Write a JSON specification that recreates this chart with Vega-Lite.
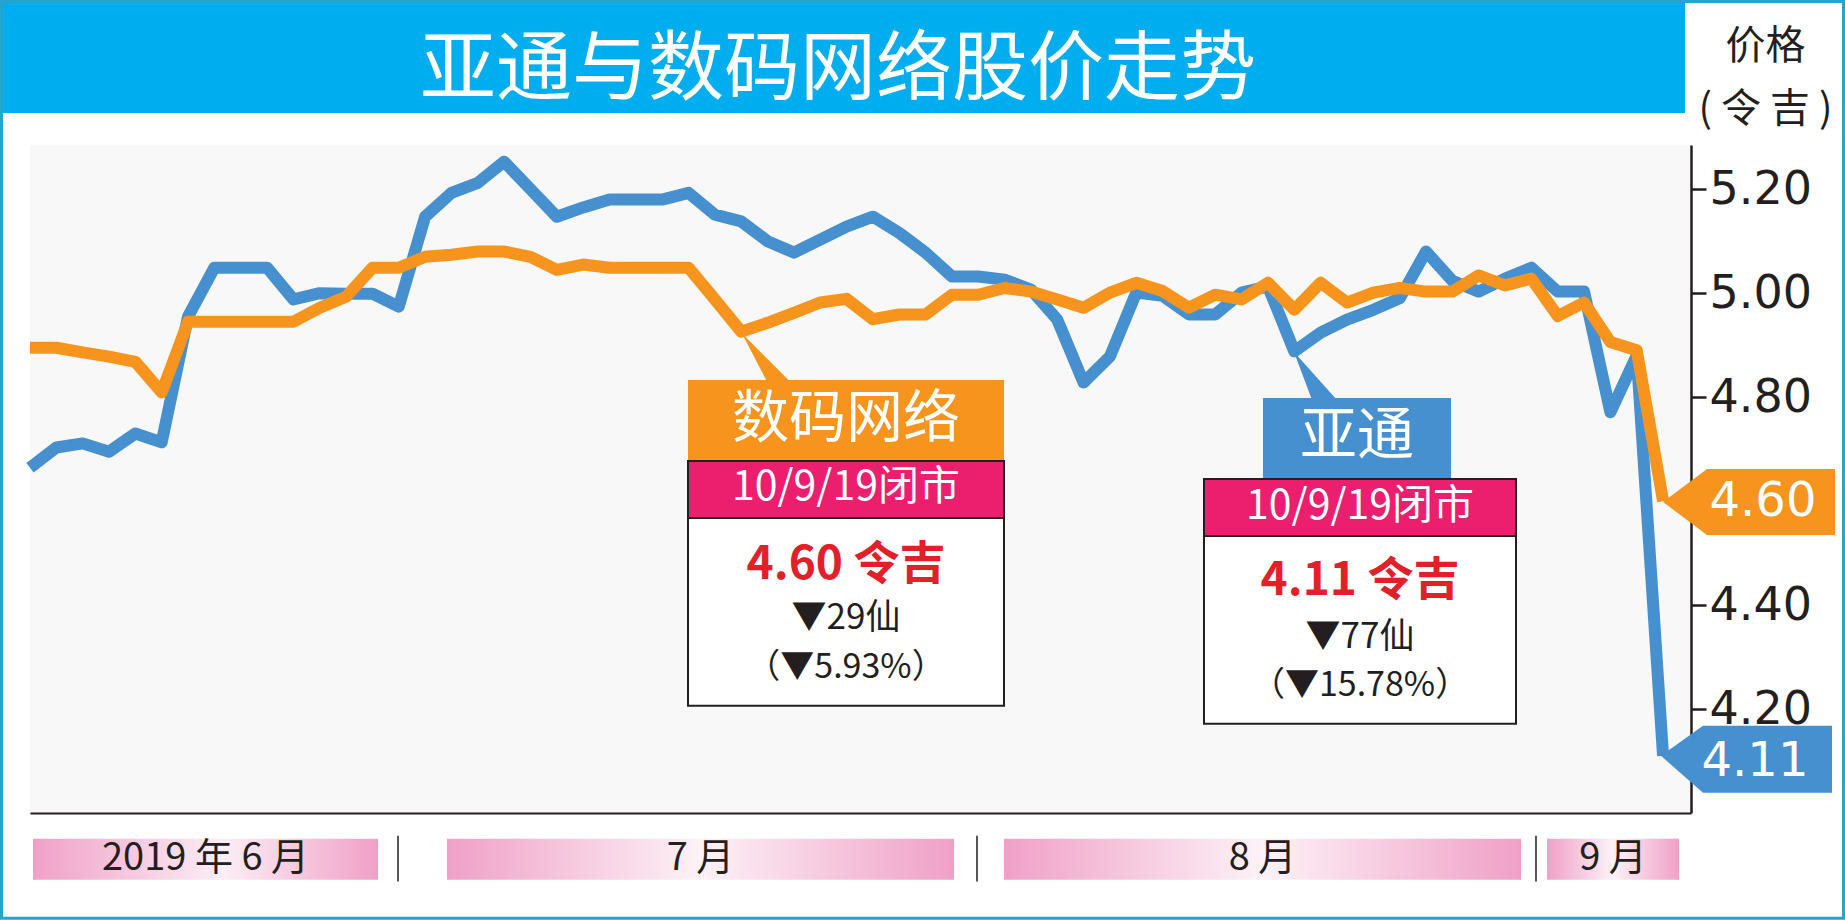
{
  "$schema": "https://vega.github.io/schema/vega-lite/v6.json",
  "width": 1661,
  "height": 668,
  "autosize": {"type": "none"},
  "padding": {"left": 30, "top": 145, "right": 154, "bottom": 107},
  "background": "white",
  "config": {"view": {"fill": "#F8F8F8", "stroke": null}},
  "datasets": {
    "prices": [
      {"d":0,"stock":"亚通","price":4.664},{"d":1,"stock":"亚通","price":4.703},{"d":2,"stock":"亚通","price":4.711},{"d":3,"stock":"亚通","price":4.695},{"d":4,"stock":"亚通","price":4.730},{"d":5,"stock":"亚通","price":4.713},{"d":6,"stock":"亚通","price":4.955},{"d":7,"stock":"亚通","price":5.049},{"d":8,"stock":"亚通","price":5.049},{"d":9,"stock":"亚通","price":5.049},
      {"d":10,"stock":"亚通","price":4.988},{"d":11,"stock":"亚通","price":5.000},{"d":12,"stock":"亚通","price":4.999},{"d":13,"stock":"亚通","price":4.999},{"d":14,"stock":"亚通","price":4.974},{"d":15,"stock":"亚通","price":5.147},{"d":16,"stock":"亚通","price":5.193},{"d":17,"stock":"亚通","price":5.212},{"d":18,"stock":"亚通","price":5.253},{"d":19,"stock":"亚通","price":5.200},
      {"d":20,"stock":"亚通","price":5.147},{"d":21,"stock":"亚通","price":5.165},{"d":22,"stock":"亚通","price":5.180},{"d":23,"stock":"亚通","price":5.180},{"d":24,"stock":"亚通","price":5.180},{"d":25,"stock":"亚通","price":5.193},{"d":26,"stock":"亚通","price":5.151},{"d":27,"stock":"亚通","price":5.138},{"d":28,"stock":"亚通","price":5.100},{"d":29,"stock":"亚通","price":5.078},
      {"d":30,"stock":"亚通","price":5.103},{"d":31,"stock":"亚通","price":5.128},{"d":32,"stock":"亚通","price":5.147},{"d":33,"stock":"亚通","price":5.116},{"d":34,"stock":"亚通","price":5.078},{"d":35,"stock":"亚通","price":5.032},{"d":36,"stock":"亚通","price":5.032},{"d":37,"stock":"亚通","price":5.026},{"d":38,"stock":"亚通","price":5.007},{"d":39,"stock":"亚通","price":4.949},
      {"d":40,"stock":"亚通","price":4.828},{"d":41,"stock":"亚通","price":4.878},{"d":42,"stock":"亚通","price":5.001},{"d":43,"stock":"亚通","price":4.995},{"d":44,"stock":"亚通","price":4.959},{"d":45,"stock":"亚通","price":4.959},{"d":46,"stock":"亚通","price":5.001},{"d":47,"stock":"亚通","price":5.013},{"d":48,"stock":"亚通","price":4.888},{"d":49,"stock":"亚通","price":4.924},
      {"d":50,"stock":"亚通","price":4.949},{"d":51,"stock":"亚通","price":4.968},{"d":52,"stock":"亚通","price":4.990},{"d":53,"stock":"亚通","price":5.080},{"d":54,"stock":"亚通","price":5.024},{"d":55,"stock":"亚通","price":5.003},{"d":56,"stock":"亚通","price":5.028},{"d":57,"stock":"亚通","price":5.049},{"d":58,"stock":"亚通","price":5.003},{"d":59,"stock":"亚通","price":5.003},
      {"d":60,"stock":"亚通","price":4.771},{"d":61,"stock":"亚通","price":4.880},{"d":62,"stock":"亚通","price":4.110},
      {"d":0,"stock":"数码网络","price":4.895},{"d":1,"stock":"数码网络","price":4.895},{"d":2,"stock":"数码网络","price":4.886},{"d":3,"stock":"数码网络","price":4.878},{"d":4,"stock":"数码网络","price":4.868},{"d":5,"stock":"数码网络","price":4.809},{"d":6,"stock":"数码网络","price":4.945},{"d":7,"stock":"数码网络","price":4.945},{"d":8,"stock":"数码网络","price":4.945},{"d":9,"stock":"数码网络","price":4.945},
      {"d":10,"stock":"数码网络","price":4.945},{"d":11,"stock":"数码网络","price":4.972},{"d":12,"stock":"数码网络","price":4.993},{"d":13,"stock":"数码网络","price":5.049},{"d":14,"stock":"数码网络","price":5.049},{"d":15,"stock":"数码网络","price":5.070},{"d":16,"stock":"数码网络","price":5.074},{"d":17,"stock":"数码网络","price":5.080},{"d":18,"stock":"数码网络","price":5.080},{"d":19,"stock":"数码网络","price":5.070},
      {"d":20,"stock":"数码网络","price":5.045},{"d":21,"stock":"数码网络","price":5.055},{"d":22,"stock":"数码网络","price":5.049},{"d":23,"stock":"数码网络","price":5.049},{"d":24,"stock":"数码网络","price":5.049},{"d":25,"stock":"数码网络","price":5.049},{"d":26,"stock":"数码网络","price":4.988},{"d":27,"stock":"数码网络","price":4.926},{"d":28,"stock":"数码网络","price":4.943},{"d":29,"stock":"数码网络","price":4.962},
      {"d":30,"stock":"数码网络","price":4.982},{"d":31,"stock":"数码网络","price":4.989},{"d":32,"stock":"数码网络","price":4.950},{"d":33,"stock":"数码网络","price":4.959},{"d":34,"stock":"数码网络","price":4.959},{"d":35,"stock":"数码网络","price":4.997},{"d":36,"stock":"数码网络","price":4.997},{"d":37,"stock":"数码网络","price":5.010},{"d":38,"stock":"数码网络","price":5.003},{"d":39,"stock":"数码网络","price":4.988},
      {"d":40,"stock":"数码网络","price":4.972},{"d":41,"stock":"数码网络","price":5.001},{"d":42,"stock":"数码网络","price":5.020},{"d":43,"stock":"数码网络","price":5.004},{"d":44,"stock":"数码网络","price":4.972},{"d":45,"stock":"数码网络","price":4.997},{"d":46,"stock":"数码网络","price":4.988},{"d":47,"stock":"数码网络","price":5.020},{"d":48,"stock":"数码网络","price":4.968},{"d":49,"stock":"数码网络","price":5.020},
      {"d":50,"stock":"数码网络","price":4.982},{"d":51,"stock":"数码网络","price":5.001},{"d":52,"stock":"数码网络","price":5.010},{"d":53,"stock":"数码网络","price":5.003},{"d":54,"stock":"数码网络","price":5.003},{"d":55,"stock":"数码网络","price":5.034},{"d":56,"stock":"数码网络","price":5.015},{"d":57,"stock":"数码网络","price":5.028},{"d":58,"stock":"数码网络","price":4.956},{"d":59,"stock":"数码网络","price":4.982},
      {"d":60,"stock":"数码网络","price":4.906},{"d":61,"stock":"数码网络","price":4.890},{"d":62,"stock":"数码网络","price":4.600}
    ]
  },
  "layer": [
    {
      "data": {"name": "prices"},
      "transform": [{"filter": "datum.stock === '亚通'"}],
      "mark": {"type": "line", "stroke": "#4690CF", "strokeWidth": 12, "strokeJoin": "round"},
      "encoding": {
        "x": {"field": "d", "type": "quantitative", "scale": {"domain": [0, 63.06], "nice": false, "zero": false},
              "axis": {"orient": "bottom", "labels": false, "ticks": false, "grid": false, "title": null, "domain": true, "domainColor": "#231F20", "domainWidth": 2}},
        "y": {"field": "price", "type": "quantitative", "scale": {"domain": [4.0, 5.285], "nice": false, "zero": false},
              "axis": {"orient": "right", "values": [4.2, 4.4, 4.8, 5.0, 5.2], "format": ".2f", "grid": false,
                       "labelFont": "DejaVu Sans", "labelFontSize": 46, "labelColor": "#231F20", "labelPadding": 3,
                       "labelOverlap": false, "labelBound": false, "labelFlush": false,
                       "tickSize": 15, "tickWidth": 2.5, "tickColor": "#231F20",
                       "domainColor": "#231F20", "domainWidth": 2.5,
                       "title": ["价格", "( 令 吉 )"], "titleAngle": 0, "titleX": 74, "titleY": -99, "titleAlign": "center", "titleBaseline": "middle",
                       "titleFont": "Noto Sans CJK SC", "titleFontSize": 40, "titleFontWeight": "normal", "titleColor": "#231F20", "titleLineHeight": 63}}
      }
    },
    {
      "data": {"name": "prices"},
      "transform": [{"filter": "datum.stock === '数码网络'"}],
      "mark": {"type": "line", "stroke": "#F7941D", "strokeWidth": 12, "strokeJoin": "round"},
      "encoding": {
        "x": {"field": "d", "type": "quantitative"},
        "y": {"field": "price", "type": "quantitative"}
      }
    },
    {
      "data": {"values": [{}]},
      "mark": {"type": "rect", "fill": "#00AEEF"},
      "encoding": {"x": {"datum": -1.2, "type": "quantitative"}, "x2": {"datum": 62.832},
                   "y": {"datum": 5.58, "type": "quantitative"}, "y2": {"datum": 5.3465}}
    },
    {
      "data": {"values": [{}]},
      "mark": {"type": "text", "text": "亚通与数码网络股价走势", "font": "Noto Sans CJK SC", "fontSize": 76, "color": "white", "align": "center", "baseline": "middle"},
      "encoding": {"x": {"datum": 30.676, "type": "quantitative"}, "y": {"datum": 5.428, "type": "quantitative"}}
    },
    {
      "data": {"values": [{}]},
      "mark": {"type": "rect", "fill": null, "fillOpacity": 0, "stroke": "#26A3CF", "strokeWidth": 3},
      "encoding": {"x": {"datum": -1.082, "type": "quantitative"}, "x2": {"datum": 68.85},
                   "y": {"datum": 5.5609, "type": "quantitative"}, "y2": {"datum": 3.7975}}
    },
    {
      "data": {"values": [{}]},
      "mark": {"type": "rect", "color": {"gradient": "linear", "x1": 0, "y1": 0, "x2": 1, "y2": 0, "stops": [{"offset": 0, "color": "#F0A0C7"}, {"offset": 0.55, "color": "#FCEEF5"}, {"offset": 1, "color": "#F0A0C7"}]}},
      "encoding": {"x": {"datum": 0.114, "type": "quantitative"}, "x2": {"datum": 13.212},
                   "y": {"datum": 3.9503, "type": "quantitative"}, "y2": {"datum": 3.8715}}
    },
    {
      "data": {"values": [{}]},
      "mark": {"type": "rect", "color": {"gradient": "linear", "x1": 0, "y1": 0, "x2": 1, "y2": 0, "stops": [{"offset": 0, "color": "#F0A0C7"}, {"offset": 0.5, "color": "#FDF2F7"}, {"offset": 1, "color": "#F0A0C7"}]}},
      "encoding": {"x": {"datum": 15.831, "type": "quantitative"}, "x2": {"datum": 35.08},
                   "y": {"datum": 3.9503, "type": "quantitative"}, "y2": {"datum": 3.8715}}
    },
    {
      "data": {"values": [{}]},
      "mark": {"type": "rect", "color": {"gradient": "linear", "x1": 0, "y1": 0, "x2": 1, "y2": 0, "stops": [{"offset": 0, "color": "#F0A0C7"}, {"offset": 0.5, "color": "#FDF2F7"}, {"offset": 1, "color": "#F0A0C7"}]}},
      "encoding": {"x": {"datum": 36.978, "type": "quantitative"}, "x2": {"datum": 56.606},
                   "y": {"datum": 3.9503, "type": "quantitative"}, "y2": {"datum": 3.8715}}
    },
    {
      "data": {"values": [{}]},
      "mark": {"type": "rect", "color": {"gradient": "linear", "x1": 0, "y1": 0, "x2": 1, "y2": 0, "stops": [{"offset": 0, "color": "#F0A0C7"}, {"offset": 0.5, "color": "#FDF2F7"}, {"offset": 1, "color": "#F0A0C7"}]}},
      "encoding": {"x": {"datum": 57.593, "type": "quantitative"}, "x2": {"datum": 62.605},
                   "y": {"datum": 3.9503, "type": "quantitative"}, "y2": {"datum": 3.8715}}
    },
    {
      "data": {"values": [{}]},
      "mark": {"type": "rule", "color": "#231F20", "strokeWidth": 1.5},
      "encoding": {"x": {"datum": 13.971, "type": "quantitative"},
                   "y": {"datum": 3.956, "type": "quantitative"}, "y2": {"datum": 3.868}}
    },
    {
      "data": {"values": [{}]},
      "mark": {"type": "rule", "color": "#231F20", "strokeWidth": 1.5},
      "encoding": {"x": {"datum": 35.953, "type": "quantitative"},
                   "y": {"datum": 3.956, "type": "quantitative"}, "y2": {"datum": 3.868}}
    },
    {
      "data": {"values": [{}]},
      "mark": {"type": "rule", "color": "#231F20", "strokeWidth": 1.5},
      "encoding": {"x": {"datum": 57.175, "type": "quantitative"},
                   "y": {"datum": 3.956, "type": "quantitative"}, "y2": {"datum": 3.868}}
    },
    {
      "data": {"values": [{}]},
      "mark": {"type": "text", "text": "2019 年 6 月", "font": "Noto Sans CJK SC", "fontSize": 38, "color": "#231F20", "align": "center", "baseline": "middle"},
      "encoding": {"x": {"datum": 6.663, "type": "quantitative"}, "y": {"datum": 3.9109, "type": "quantitative"}}
    },
    {
      "data": {"values": [{}]},
      "mark": {"type": "text", "text": "7 月", "font": "Noto Sans CJK SC", "fontSize": 38, "color": "#231F20", "align": "center", "baseline": "middle"},
      "encoding": {"x": {"datum": 25.456, "type": "quantitative"}, "y": {"datum": 3.9109, "type": "quantitative"}}
    },
    {
      "data": {"values": [{}]},
      "mark": {"type": "text", "text": "8 月", "font": "Noto Sans CJK SC", "fontSize": 38, "color": "#231F20", "align": "center", "baseline": "middle"},
      "encoding": {"x": {"datum": 46.79, "type": "quantitative"}, "y": {"datum": 3.9109, "type": "quantitative"}}
    },
    {
      "data": {"values": [{}]},
      "mark": {"type": "text", "text": "9 月", "font": "Noto Sans CJK SC", "fontSize": 38, "color": "#231F20", "align": "center", "baseline": "middle"},
      "encoding": {"x": {"datum": 60.1, "type": "quantitative"}, "y": {"datum": 3.9109, "type": "quantitative"}}
    },
    {
      "data": {"values": [{}]},
      "mark": {"type": "point", "shape": "M-1,-1L0.04,1L1,1Z", "size": 2304, "filled": true, "fill": "#F7941D", "opacity": 1, "strokeWidth": 0},
      "encoding": {"x": {"datum": 27.942, "type": "quantitative"}, "y": {"datum": 4.8763, "type": "quantitative"}}
    },
    {
      "data": {"values": [{}]},
      "mark": {"type": "rect", "fill": "#F7941D"},
      "encoding": {"x": {"datum": 24.981, "type": "quantitative"}, "x2": {"datum": 36.978},
                   "y": {"datum": 4.833, "type": "quantitative"}, "y2": {"datum": 4.6773}}
    },
    {
      "data": {"values": [{}]},
      "mark": {"type": "text", "text": "数码网络", "font": "Noto Sans CJK SC", "fontSize": 57, "color": "white", "align": "center", "baseline": "middle"},
      "encoding": {"x": {"datum": 30.979, "type": "quantitative"}, "y": {"datum": 4.7551, "type": "quantitative"}}
    },
    {
      "data": {"values": [{}]},
      "mark": {"type": "rect", "fill": "white", "stroke": "#231F20", "strokeWidth": 2},
      "encoding": {"x": {"datum": 24.981, "type": "quantitative"}, "x2": {"datum": 36.978},
                   "y": {"datum": 4.6773, "type": "quantitative"}, "y2": {"datum": 4.2061}}
    },
    {
      "data": {"values": [{}]},
      "mark": {"type": "rect", "fill": "#EC1E6E", "stroke": "#231F20", "strokeWidth": 2},
      "encoding": {"x": {"datum": 24.981, "type": "quantitative"}, "x2": {"datum": 36.978},
                   "y": {"datum": 4.6773, "type": "quantitative"}, "y2": {"datum": 4.5677}}
    },
    {
      "data": {"values": [{}]},
      "mark": {"type": "text", "text": "10/9/19闭市", "font": "Noto Sans CJK SC", "fontSize": 41, "color": "white", "align": "center", "baseline": "middle"},
      "encoding": {"x": {"datum": 30.979, "type": "quantitative"}, "y": {"datum": 4.6253, "type": "quantitative"}}
    },
    {
      "data": {"values": [{}]},
      "mark": {"type": "text", "text": "4.60 令吉", "font": "Noto Sans CJK SC", "fontSize": 46, "fontWeight": "bold", "color": "#E3202A", "align": "center", "baseline": "middle"},
      "encoding": {"x": {"datum": 30.979, "type": "quantitative"}, "y": {"datum": 4.4773, "type": "quantitative"}}
    },
    {
      "data": {"values": [{}]},
      "mark": {"type": "text", "text": "▼29仙", "font": "Noto Sans CJK SC", "fontSize": 35, "color": "#231F20", "align": "center", "baseline": "middle"},
      "encoding": {"x": {"datum": 30.979, "type": "quantitative"}, "y": {"datum": 4.3753, "type": "quantitative"}}
    },
    {
      "data": {"values": [{}]},
      "mark": {"type": "text", "text": "（▼5.93%）", "font": "Noto Sans CJK SC", "fontSize": 34, "color": "#231F20", "align": "center", "baseline": "middle"},
      "encoding": {"x": {"datum": 30.979, "type": "quantitative"}, "y": {"datum": 4.2792, "type": "quantitative"}}
    },
    {
      "data": {"values": [{}]},
      "mark": {"type": "point", "shape": "M-0.896,-1L-0.146,1L0.896,1Z", "size": 2304, "filled": true, "fill": "#4690CF", "opacity": 1, "strokeWidth": 0},
      "encoding": {"x": {"datum": 48.804, "type": "quantitative"}, "y": {"datum": 4.8407, "type": "quantitative"}}
    },
    {
      "data": {"values": [{}]},
      "mark": {"type": "rect", "fill": "#4690CF"},
      "encoding": {"x": {"datum": 46.811, "type": "quantitative"}, "x2": {"datum": 53.949},
                   "y": {"datum": 4.7984, "type": "quantitative"}, "y2": {"datum": 4.6427}}
    },
    {
      "data": {"values": [{}]},
      "mark": {"type": "text", "text": "亚通", "font": "Noto Sans CJK SC", "fontSize": 57, "color": "white", "align": "center", "baseline": "middle"},
      "encoding": {"x": {"datum": 50.38, "type": "quantitative"}, "y": {"datum": 4.7225, "type": "quantitative"}}
    },
    {
      "data": {"values": [{}]},
      "mark": {"type": "rect", "fill": "white", "stroke": "#231F20", "strokeWidth": 2},
      "encoding": {"x": {"datum": 44.571, "type": "quantitative"}, "x2": {"datum": 56.416},
                   "y": {"datum": 4.6427, "type": "quantitative"}, "y2": {"datum": 4.1715}}
    },
    {
      "data": {"values": [{}]},
      "mark": {"type": "rect", "fill": "#EC1E6E", "stroke": "#231F20", "strokeWidth": 2},
      "encoding": {"x": {"datum": 44.571, "type": "quantitative"}, "x2": {"datum": 56.416},
                   "y": {"datum": 4.6427, "type": "quantitative"}, "y2": {"datum": 4.533}}
    },
    {
      "data": {"values": [{}]},
      "mark": {"type": "text", "text": "10/9/19闭市", "font": "Noto Sans CJK SC", "fontSize": 41, "color": "white", "align": "center", "baseline": "middle"},
      "encoding": {"x": {"datum": 50.494, "type": "quantitative"}, "y": {"datum": 4.5888, "type": "quantitative"}}
    },
    {
      "data": {"values": [{}]},
      "mark": {"type": "text", "text": "4.11 令吉", "font": "Noto Sans CJK SC", "fontSize": 46, "fontWeight": "bold", "color": "#E3202A", "align": "center", "baseline": "middle"},
      "encoding": {"x": {"datum": 50.494, "type": "quantitative"}, "y": {"datum": 4.4465, "type": "quantitative"}}
    },
    {
      "data": {"values": [{}]},
      "mark": {"type": "text", "text": "▼77仙", "font": "Noto Sans CJK SC", "fontSize": 35, "color": "#231F20", "align": "center", "baseline": "middle"},
      "encoding": {"x": {"datum": 50.494, "type": "quantitative"}, "y": {"datum": 4.3388, "type": "quantitative"}}
    },
    {
      "data": {"values": [{}]},
      "mark": {"type": "text", "text": "（▼15.78%）", "font": "Noto Sans CJK SC", "fontSize": 34, "color": "#231F20", "align": "center", "baseline": "middle"},
      "encoding": {"x": {"datum": 50.494, "type": "quantitative"}, "y": {"datum": 4.2446, "type": "quantitative"}}
    },
    {
      "data": {"values": [{}]},
      "mark": {"type": "point", "shape": "M-1,0L-0.488,-0.384L1,-0.384L1,0.384L-0.488,0.384Z", "size": 29584, "filled": true, "fill": "#F7941D", "opacity": 1, "strokeWidth": 0},
      "encoding": {"x": {"datum": 65.262, "type": "quantitative"}, "y": {"datum": 4.5984, "type": "quantitative"}}
    },
    {
      "data": {"values": [{}]},
      "mark": {"type": "text", "text": "4.60", "font": "DejaVu Sans", "fontSize": 48, "color": "white", "align": "center", "baseline": "middle"},
      "encoding": {"x": {"datum": 65.794, "type": "quantitative"}, "y": {"datum": 4.5984, "type": "quantitative"}}
    },
    {
      "data": {"values": [{}]},
      "mark": {"type": "point", "shape": "M-1,-0.041L-0.509,-0.392L1,-0.392L1,0.392L-0.509,0.392Z", "size": 29241, "filled": true, "fill": "#4690CF", "opacity": 1, "strokeWidth": 0},
      "encoding": {"x": {"datum": 65.167, "type": "quantitative"}, "y": {"datum": 4.1032, "type": "quantitative"}}
    },
    {
      "data": {"values": [{}]},
      "mark": {"type": "text", "text": "4.11", "font": "DejaVu Sans", "fontSize": 48, "color": "white", "align": "center", "baseline": "middle"},
      "encoding": {"x": {"datum": 65.49, "type": "quantitative"}, "y": {"datum": 4.099, "type": "quantitative"}}
    }
  ]
}
